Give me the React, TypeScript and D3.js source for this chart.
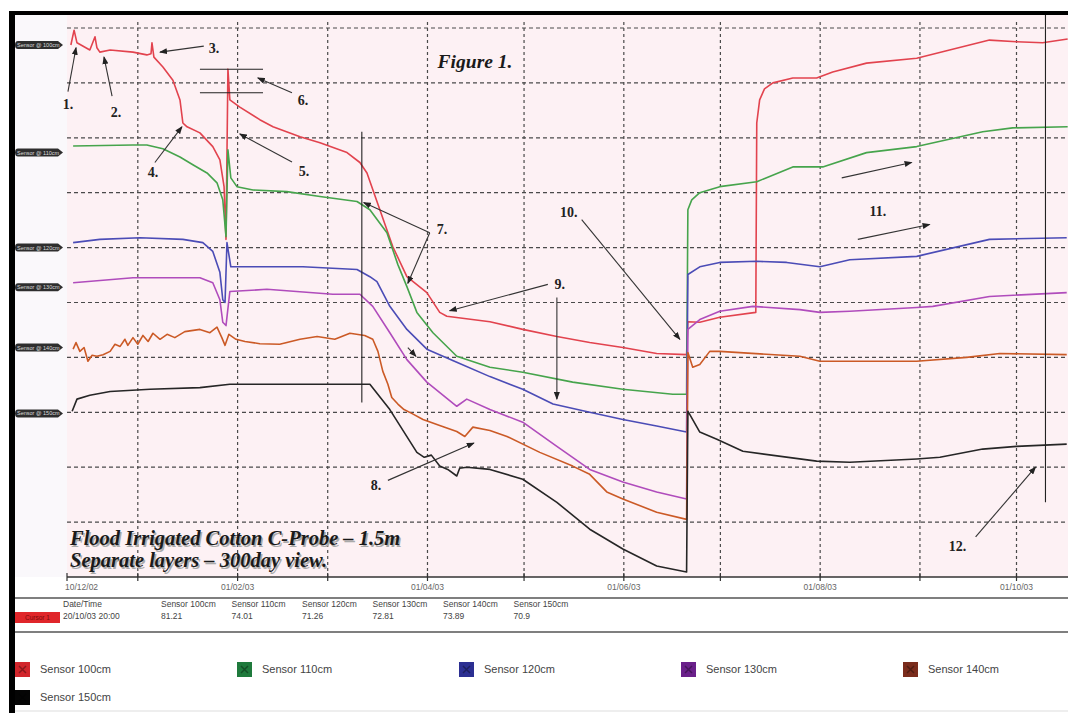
import React, { useEffect, useRef } from "react";
import * as d3 from "d3";

// time span of the 300 day view
const startDate = new Date(2002, 11, 10);
const endDate = new Date(2003, 9, 17);

const sensorNames = ["Sensor 100cm", "Sensor 110cm", "Sensor 120cm", "Sensor 130cm", "Sensor 140cm", "Sensor 150cm"];
const lineColors = ["#e2434e", "#46a44c", "#4b4cb6", "#b04cbc", "#cb5a26", "#262626"];
const legendColors = ["#d2262c", "#1f7a3c", "#2c2f92", "#6a208a", "#7a2c1c", "#050505"];
const cursorValues = ["81.21", "74.01", "71.26", "72.81", "73.89", "70.9"];
const cursorDate = "20/10/03 20:00";

// labelled ticks on the date axis
const tickLabelDates = [new Date(2002, 11, 10), new Date(2003, 1, 1), new Date(2003, 3, 1), new Date(2003, 5, 1), new Date(2003, 7, 1), new Date(2003, 9, 1)];
const tickLabels = ["10/12/02", "01/02/03", "01/04/03", "01/06/03", "01/08/03", "01/10/03"];

// layer reference values (the dark tags on the left)
const layerRefValues = [96.9, 77.3, 60.0, 52.8, 41.8, 29.8];

// each series: days after 10/12/02 and the layer-offset reading
const s100Days = [1.2, 2.2, 3.1, 7.1, 8.7, 9.3, 10.2, 13.4, 20.5, 24.8, 26.1, 26.4, 27.0, 29.8, 32.9, 35.1, 36.0, 37.3, 41.3, 45.3, 47.5, 48.8, 49.4, 50.0, 50.6, 53.7, 59.9, 64.0, 72.4, 78.6, 87.0, 91.0, 93.2, 97.2, 101.2, 105.6, 111.8, 115.8, 118.0, 131.4, 141.6, 152.2, 162.4, 172.7, 183.2, 192.5, 192.9, 196.6, 202.8, 214.0, 214.3, 215.2, 216.7, 219.3, 225.5, 232.9, 237.9, 248.4, 264.0, 274.2, 286.6, 295.0, 303.1, 310.9];
const s100Vals = [96.9, 99.6, 97.3, 96.0, 98.4, 96.4, 95.6, 96.0, 95.6, 95.1, 95.3, 97.3, 94.7, 92.9, 90.5, 86.9, 82.7, 82.0, 80.9, 78.4, 76.0, 71.1, 61.5, 92.5, 86.9, 85.6, 83.3, 82.0, 80.2, 79.1, 77.3, 75.5, 73.6, 66.9, 60.2, 54.7, 51.8, 48.2, 47.5, 46.5, 45.1, 43.8, 42.7, 41.8, 40.7, 40.5, 46.5, 46.4, 47.3, 48.2, 82.7, 86.9, 88.9, 90.0, 90.9, 90.9, 92.0, 93.6, 94.5, 96.0, 97.8, 97.5, 97.3, 98.0];

const s110Days = [1.9, 20.5, 24.8, 29.8, 35.1, 39.1, 43.5, 46.6, 48.4, 49.4, 50.0, 50.9, 52.8, 57.8, 68.3, 78.6, 90.1, 94.1, 99.4, 102.8, 105.6, 108.7, 113.7, 121.1, 131.4, 141.6, 157.1, 172.7, 188.2, 192.5, 192.9, 194.1, 196.6, 202.8, 214.3, 225.5, 234.8, 248.4, 264.0, 284.5, 293.8, 310.9];
const s110Vals = [78.5, 78.7, 78.7, 78.0, 76.5, 75.1, 73.6, 71.8, 68.7, 62.0, 77.8, 72.7, 71.1, 70.5, 70.2, 69.3, 68.4, 66.9, 62.7, 56.9, 52.9, 48.2, 44.5, 40.2, 38.2, 37.3, 35.5, 34.2, 33.3, 33.3, 66.9, 68.7, 70.0, 71.1, 72.0, 74.7, 74.7, 77.3, 78.4, 81.1, 81.8, 82.0];

const s120Days = [1.9, 10.2, 22.7, 36.0, 42.2, 45.3, 47.5, 48.4, 49.1, 49.7, 50.9, 73.3, 90.1, 94.1, 96.3, 100.3, 105.6, 111.8, 121.1, 131.4, 141.6, 151.0, 162.4, 172.7, 183.2, 192.5, 192.9, 196.6, 202.8, 214.3, 223.6, 233.9, 243.2, 264.0, 286.6, 310.6];
const s120Vals = [60.9, 61.5, 61.8, 61.5, 60.9, 59.3, 55.5, 50.5, 50.0, 60.9, 56.5, 56.5, 56.0, 54.7, 53.8, 49.3, 45.1, 41.5, 39.1, 36.5, 34.2, 31.5, 30.0, 28.7, 27.5, 26.4, 55.1, 56.5, 57.3, 57.5, 57.3, 56.5, 57.8, 58.4, 61.5, 61.8];

const s130Days = [1.9, 20.5, 41.3, 45.3, 47.5, 48.4, 49.4, 50.6, 62.1, 82.6, 91.0, 95.0, 100.3, 105.6, 111.8, 121.1, 124.2, 131.4, 141.6, 152.2, 162.4, 172.7, 183.2, 192.5, 192.9, 196.6, 202.8, 213.1, 227.7, 233.9, 243.2, 264.0, 269.0, 286.6, 310.6];
const s130Vals = [53.6, 54.5, 54.5, 53.6, 50.5, 46.4, 45.8, 52.0, 52.4, 51.5, 51.5, 49.3, 44.5, 39.6, 35.5, 31.1, 32.4, 30.5, 28.2, 23.8, 19.6, 17.3, 15.5, 14.2, 45.1, 46.9, 48.4, 49.3, 48.7, 48.2, 48.4, 49.1, 49.3, 51.1, 51.8];

const s140Days = [1.9, 2.8, 4.0, 5.3, 6.5, 7.8, 9.3, 11.2, 13.4, 14.9, 16.5, 18.0, 18.9, 20.5, 22.0, 23.6, 25.2, 26.7, 28.9, 31.1, 33.5, 36.6, 41.3, 44.4, 46.6, 48.1, 49.1, 50.3, 52.5, 55.3, 59.9, 66.1, 72.4, 77.7, 83.2, 87.9, 92.5, 95.0, 96.6, 98.1, 99.7, 100.9, 102.8, 104.7, 107.1, 110.6, 115.8, 121.1, 123.6, 126.1, 131.4, 136.7, 146.9, 157.1, 162.4, 167.7, 172.7, 183.2, 192.5, 192.9, 194.4, 196.6, 199.7, 202.8, 227.7, 233.9, 264.0, 279.5, 289.8, 310.6];
const s140Vals = [41.5, 42.7, 41.1, 41.8, 39.3, 40.4, 40.2, 40.5, 41.1, 42.4, 42.0, 43.3, 42.2, 43.6, 42.4, 44.0, 42.9, 44.4, 43.3, 44.2, 43.6, 44.7, 45.1, 44.5, 45.5, 43.6, 42.2, 44.2, 43.3, 42.9, 42.5, 42.4, 43.3, 43.8, 43.3, 44.4, 44.0, 43.3, 41.1, 37.5, 35.1, 32.7, 31.5, 30.5, 29.8, 28.7, 27.6, 26.5, 25.6, 27.3, 26.7, 25.6, 22.7, 20.2, 18.7, 15.5, 14.2, 11.8, 10.5, 40.9, 38.2, 38.7, 41.1, 41.1, 40.2, 39.3, 39.3, 40.0, 40.7, 40.5];

const s150Days = [1.6, 3.1, 7.1, 13.4, 25.8, 41.3, 50.6, 94.1, 100.3, 108.7, 111.0, 113.2, 115.8, 118.3, 121.1, 122.0, 124.2, 131.4, 141.6, 152.2, 162.4, 172.7, 183.2, 192.5, 192.9, 196.6, 201.9, 210.0, 232.9, 243.2, 264.0, 271.2, 284.5, 295.0, 310.6];
const s150Vals = [30.2, 32.4, 33.1, 33.8, 34.2, 34.5, 35.1, 35.1, 30.5, 22.7, 21.8, 22.2, 20.2, 19.6, 18.4, 19.8, 20.0, 19.6, 17.8, 13.6, 8.7, 5.1, 2.0, 0.9, 30.2, 26.4, 25.1, 22.9, 21.1, 20.9, 21.5, 21.8, 23.3, 23.8, 24.2];

const seriesDays = [s100Days, s110Days, s120Days, s130Days, s140Days, s150Days];
const seriesVals = [s100Vals, s110Vals, s120Vals, s130Vals, s140Vals, s150Vals];

// numbered notes: label position and arrows [day1, val1, day2, val2]
const noteLabels = ["1.", "2.", "3.", "4.", "5.", "6.", "7.", "8.", "9.", "10.", "11.", "12."];
const noteDays = [0.3, 15.2, 45.7, 26.7, 73.6, 73.3, 116.5, 96.0, 153.1, 155.9, 251.9, 276.7];
const noteVals = [85.3, 83.8, 95.5, 72.9, 73.1, 86.0, 62.5, 15.8, 52.4, 65.6, 65.8, 4.7];
const noteArrows = [
  [0.3, 88.4, 2.8, 96.4], [14.0, 87.6, 11.5, 94.7], [42.5, 96.7, 28.9, 95.6], [27.3, 75.5, 35.7, 82.0],
  [69.9, 75.6, 53.7, 80.7], [69.9, 88.2, 59.3, 90.9], [112.7, 62.7, 92.2, 68.2], [112.7, 62.7, 105.9, 53.5],
  [99.7, 17.6, 126.4, 24.4], [149.4, 53.3, 118.9, 48.5], [152.2, 50.9, 152.2, 32.4], [159.9, 65.1, 190.4, 43.3],
  [240.7, 72.7, 262.4, 75.5], [245.7, 61.5, 268.0, 64.2], [282.3, 7.3, 300.9, 20.0], [105.9, 41.8, 108.4, 40.2],
];
const noteRules = [
  [41.3, 92.5, 60.9, 92.5], [41.3, 88.2, 60.9, 88.2], [91.6, 81.1, 91.6, 31.8], [304.0, 103, 304.0, 13.6],
];

const dayToDate = (d: number) => new Date(startDate.getTime() + d * 864e5);

export default function App() {
  const ref = useRef<SVGSVGElement>(null);

  useEffect(() => {
    const svg = d3.select(ref.current);
    svg.selectAll("*").remove();

    const W = 1068, H = 713;
    const left = 67, top = 15, axisY = 577;

    const x = d3.scaleTime().domain([startDate, endDate]).range([left, W]);
    const y = d3.scaleLinear().domain([0, 100]).range([axisY, 28]);

    svg.append("rect").attr("width", W).attr("height", H).attr("fill", "#fff");
    svg.append("rect").attr("x", 15).attr("y", top).attr("width", left - 15).attr("height", axisY - top).attr("fill", "#faf8fb");
    svg.append("rect").attr("x", left).attr("y", top).attr("width", W - left).attr("height", axisY - top).attr("fill", "#fdf1f4");

    const defs = svg.append("defs");
    defs.append("marker").attr("id", "arr").attr("viewBox", "0 0 8 6")
      .attr("refX", 7).attr("refY", 3).attr("markerWidth", 8).attr("markerHeight", 6)
      .attr("markerUnits", "userSpaceOnUse").attr("orient", "auto")
      .append("path").attr("d", "M0,0 L8,3 L0,6 Z").attr("fill", "#222");

    // grid
    const grid = svg.append("g");
    grid.selectAll("line.h").data(d3.range(10, 101, 10)).enter().append("line")
      .attr("x1", left).attr("x2", W).attr("y1", d => y(d)).attr("y2", d => y(d))
      .attr("stroke", "#4a4a4a").attr("stroke-width", 1.2).attr("stroke-dasharray", "4,3");
    const months = d3.timeMonth.range(d3.timeMonth.ceil(startDate), endDate);
    grid.selectAll("line.v").data(months).enter().append("line")
      .attr("x1", d => x(d)).attr("x2", d => x(d)).attr("y1", 22).attr("y2", axisY)
      .attr("stroke", "#4a4a4a").attr("stroke-width", 1.2).attr("stroke-dasharray", "3,3");

    // layer tags on the left
    const tags = svg.append("g");
    layerRefValues.forEach((v, i) => {
      const cy = y(v);
      tags.append("path")
        .attr("d", `M18,${cy - 4} L58,${cy - 4} L63,${cy} L58,${cy + 4} L18,${cy + 4} Q15,${cy + 4} 15,${cy} Q15,${cy - 4} 18,${cy - 4} Z`)
        .attr("fill", "#2e2e2e");
      tags.append("text").attr("x", 17).attr("y", cy + 2).attr("font-size", 5.5)
        .attr("font-family", "Liberation Sans, Arial").attr("fill", "#ddd").text(sensorNames[i].replace("Sensor ", "Sensor @ "));
    });

    // series
    const line = d3.line<[number, number]>().x(d => x(dayToDate(d[0]))).y(d => y(d[1]));
    seriesDays.forEach((days, i) => {
      const pts = days.map((d, j) => [d, seriesVals[i][j]] as [number, number]);
      svg.append("path").datum(pts).attr("d", line).attr("fill", "none")
        .attr("stroke", lineColors[i]).attr("stroke-width", 1.6).attr("stroke-linejoin", "round");
    });

    // notes
    const serif = "Liberation Serif, Times New Roman, serif";
    const notes = svg.append("g");
    noteRules.forEach(r => {
      notes.append("line").attr("x1", x(dayToDate(r[0]))).attr("y1", y(r[1]))
        .attr("x2", x(dayToDate(r[2]))).attr("y2", y(r[3])).attr("stroke", "#222").attr("stroke-width", 1.1);
    });
    noteArrows.forEach(a => {
      notes.append("line").attr("x1", x(dayToDate(a[0]))).attr("y1", y(a[1]))
        .attr("x2", x(dayToDate(a[2]))).attr("y2", y(a[3])).attr("stroke", "#333").attr("stroke-width", 1.1)
        .attr("marker-end", "url(#arr)");
    });
    noteLabels.forEach((t, i) => {
      notes.append("text").attr("x", x(dayToDate(noteDays[i]))).attr("y", y(noteVals[i]))
        .attr("text-anchor", "middle").attr("font-family", serif)
        .attr("font-weight", "bold").attr("font-size", 14).attr("fill", "#222").text(t);
    });

    svg.append("text").attr("x", 475).attr("y", 68).attr("text-anchor", "middle")
      .attr("font-family", serif).attr("font-weight", "bold").attr("font-style", "italic")
      .attr("font-size", 19.5).attr("fill", "#1a1a1a").text("Figure 1.");
    ["Flood Irrigated Cotton C-Probe – 1.5m", "Separate layers – 300day view."].forEach((t, i) => {
      svg.append("text").attr("x", 71.5).attr("y", 546.5 + i * 22)
        .attr("font-family", serif).attr("font-weight", "bold").attr("font-style", "italic")
        .attr("font-size", 20.5).attr("fill", "#aaa").text(t);
      svg.append("text").attr("x", 70).attr("y", 545 + i * 22)
        .attr("font-family", serif).attr("font-weight", "bold").attr("font-style", "italic")
        .attr("font-size", 20.5).attr("fill", "#1a1a1a").text(t);
    });

    // date axis
    const ax = svg.append("g");
    ax.append("line").attr("x1", left).attr("x2", W).attr("y1", axisY).attr("y2", axisY)
      .attr("stroke", "#333").attr("stroke-width", 1.6);
    ax.selectAll("line.t").data([startDate, ...months]).enter().append("line")
      .attr("x1", d => x(d)).attr("x2", d => x(d)).attr("y1", axisY - 4).attr("y2", axisY + 4)
      .attr("stroke", "#333").attr("stroke-width", 1.2);
    tickLabels.forEach((t, i) => {
      ax.append("text").attr("x", i === 0 ? left - 2 : x(tickLabelDates[i])).attr("y", 590)
        .attr("text-anchor", i === 0 ? "start" : "middle").attr("font-family", "Liberation Sans, Arial")
        .attr("font-size", 8.5).attr("fill", "#666").text(t);
    });

    // cursor read-out table
    const sans = "Liberation Sans, Arial, sans-serif";
    [598, 632].forEach(ly => {
      svg.append("line").attr("x1", 15).attr("x2", W).attr("y1", ly).attr("y2", ly)
        .attr("stroke", "#555").attr("stroke-width", 1.6);
    });
    svg.append("rect").attr("x", 15).attr("y", 612).attr("width", 45).attr("height", 11).attr("fill", "#e0262a");
    svg.append("text").attr("x", 25).attr("y", 620).attr("font-family", sans).attr("font-size", 6.5)
      .attr("fill", "#7a0a0a").text("Cursor 1");
    svg.append("text").attr("x", 63).attr("y", 607).attr("font-family", sans).attr("font-size", 8.5)
      .attr("fill", "#444").text("Date/Time");
    svg.append("text").attr("x", 63).attr("y", 619).attr("font-family", sans).attr("font-size", 8.5)
      .attr("fill", "#444").text(cursorDate);
    sensorNames.forEach((n, i) => {
      const tx = 161 + i * 70.5;
      svg.append("text").attr("x", tx).attr("y", 607).attr("font-family", sans).attr("font-size", 8.5)
        .attr("fill", "#444").text(n);
      svg.append("text").attr("x", tx).attr("y", 619).attr("font-family", sans).attr("font-size", 8.5)
        .attr("fill", "#444").text(cursorValues[i]);
    });

    // legend
    sensorNames.forEach((n, i) => {
      const lx = 15 + (i % 5) * 222;
      const ly = 662 + Math.floor(i / 5) * 28;
      svg.append("rect").attr("x", lx).attr("y", ly).attr("width", 15).attr("height", 15).attr("fill", legendColors[i]);
      svg.append("path").attr("d", `M${lx + 4},${ly + 4} L${lx + 11},${ly + 11} M${lx + 11},${ly + 4} L${lx + 4},${ly + 11}`)
        .attr("stroke", "#000").attr("stroke-opacity", 0.35).attr("stroke-width", 1.5);
      svg.append("text").attr("x", lx + 25).attr("y", ly + 11).attr("font-family", sans).attr("font-size", 11)
        .attr("fill", "#444").text(n);
    });
    svg.append("line").attr("x1", 15).attr("x2", W).attr("y1", 711).attr("y2", 711).attr("stroke", "#ddd");

    // frame
    svg.append("rect").attr("x", 9).attr("y", 11).attr("width", W - 9).attr("height", 4).attr("fill", "#000");
    svg.append("rect").attr("x", 9).attr("y", 11).attr("width", 6).attr("height", H - 11).attr("fill", "#000");
  }, []);

  return (
    <div style={{ position: "absolute", left: 0, top: 0 }}>
      <svg ref={ref} width={1068} height={713} />
    </div>
  );
}
